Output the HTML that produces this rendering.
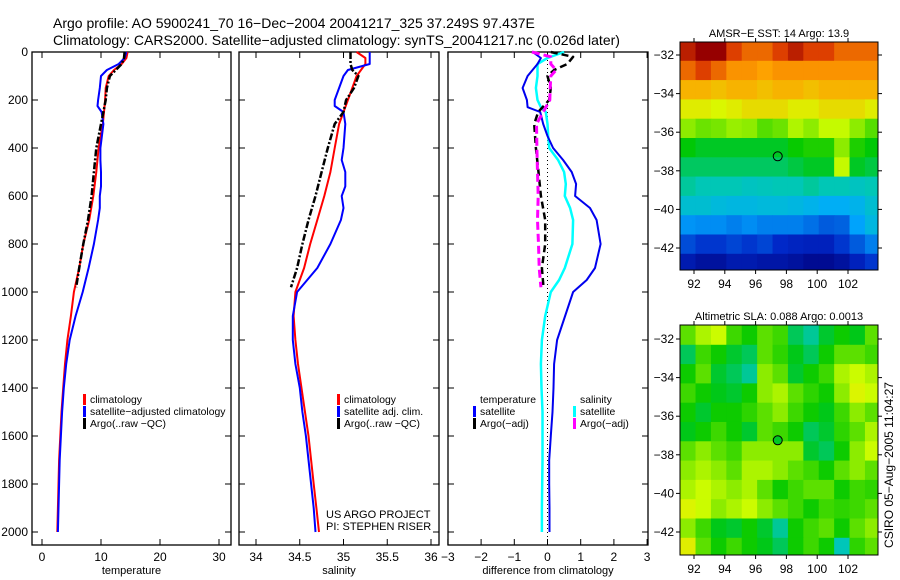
<!DOCTYPE html>
<html><head><meta charset="utf-8"><style>
html,body{margin:0;padding:0;background:#fff;}
svg{display:block;font-family:"Liberation Sans",sans-serif;}
</style></head><body>
<svg id="fig" width="900" height="580" viewBox="0 0 900 580">
<text x="53" y="28" font-size="14">Argo profile: AO 5900241_70 16−Dec−2004 20041217_325 37.249S 97.437E</text>
<text x="53" y="45" font-size="14">Climatology: CARS2000. Satellite−adjusted climatology: synTS_20041217.nc (0.026d later)</text>
<text transform="translate(893,465) rotate(-90)" text-anchor="middle" font-size="12">CSIRO 05−Aug−2005 11:04:27</text>
</svg>
<script>
// ---------- profile data ----------
const climDepth=[0,25,50,75,100,150,200,250,300,400,500,600,700,800,900,1000,1100,1200,1300,1400,1500,1600,1700,1800,1900,2000];
const climTemp=[14.5,14.3,13.5,12.2,11.3,10.8,10.7,10.5,10.3,9.6,9.2,8.7,8.0,7.0,6.3,5.4,4.9,4.3,3.9,3.6,3.3,3.1,2.9,2.8,2.7,2.6];
const climSal=[35.15,35.25,35.25,35.2,35.15,35.1,35.05,35.0,34.95,34.9,34.85,34.78,34.7,34.62,34.55,34.45,34.43,34.45,34.48,34.52,34.56,34.6,34.63,34.66,34.69,34.72];
const satDepth=[0,25,50,75,100,150,200,225,250,300,400,450,500,560,600,650,700,800,900,1000,1100,1200,1300,1400,1500,1600,1700,1800,1900,2000];
const satTemp=[14.3,14.0,13.0,11.0,10.0,9.8,9.5,9.4,10.1,10.4,9.9,9.9,10.0,10.0,9.8,9.8,9.5,8.8,7.9,6.9,5.7,4.7,4.1,3.7,3.4,3.2,3.0,2.9,2.8,2.7];
const satSal=[35.3,35.3,35.3,35.05,35.0,34.95,34.9,34.9,35.0,35.02,35.0,34.98,35.02,35.02,34.98,35.0,34.97,34.85,34.7,34.47,34.42,34.42,34.45,34.5,34.53,34.57,34.6,34.63,34.66,34.68];
const argoDepth=[0,25,50,75,100,150,200,250,300,400,500,600,700,800,900,980];
const argoTemp=[14.0,13.9,13.5,12.5,11.5,11.0,10.8,10.4,10.0,9.2,8.8,8.4,7.8,7.0,6.3,5.8];
const argoSal=[35.08,35.08,35.08,35.1,35.17,35.12,35.03,35.0,34.9,34.82,34.75,34.68,34.6,34.53,34.47,34.4];
// differences from climatology
const dSatDepth=[0,25,50,100,150,200,230,250,300,350,400,450,500,550,600,650,700,800,900,950,1000,1100,1200,1300,1400,1500,1600,1700,1800,1900,2000];
const dSatTemp=[-0.45,-0.2,-0.3,-0.6,-0.75,-0.62,-0.6,-0.22,-0.13,0.0,0.17,0.47,0.73,0.86,0.83,1.28,1.48,1.6,1.43,1.18,0.77,0.53,0.29,0.2,0.18,0.15,0.1,0.05,0.05,0.06,0.06];
const dSatSal=[0.5,0.0,-0.3,-0.3,-0.35,-0.3,-0.2,-0.05,0.0,0.02,0.05,0.32,0.5,0.55,0.52,0.68,0.77,0.75,0.52,0.35,0.1,-0.07,-0.17,-0.2,-0.18,-0.15,-0.15,-0.15,-0.16,-0.17,-0.17];
const dArgoDepth=[0,20,50,75,100,150,200,250,300,400,500,600,700,800,900,980];
const dArgoTemp=[0.1,0.77,0.6,0.2,0.0,0.1,0.05,-0.28,-0.4,-0.35,-0.27,-0.2,-0.07,-0.07,-0.17,-0.12];
const dArgoSal=[-0.47,0.1,0.1,0.26,0.1,0.08,0.07,-0.13,-0.33,-0.32,-0.3,-0.28,-0.3,-0.27,-0.25,-0.2];
const depthTicks=[0,200,400,600,800,1000,1200,1400,1600,1800,2000];
const tempTicks=[0,10,20,30];
const salTicks=[34,34.5,35,35.5,36];
const diffTicks=[-3,-2,-1,0,1,2,3];
// ---------- map data (1 degree cells, rows from -31.3 southward, cols from 91.1 eastward) ----------
const mapLatTicks=[-32,-34,-36,-38,-40,-42];
const mapLonTicks=[92,94,96,98,100,102];
const argoLon=97.437, argoLat=-37.249;
const sstGrid=[
[19.5,20,20,19,18.5,18.5,19,19.5,19,19,18.5,18.5,18.5],
[18.5,19,18.5,18,18,17.8,18,18,18,18,18,18,18],
[17.5,17.5,17.3,17.5,17.5,17.3,17.5,17.5,17.3,17.5,17.5,17.5,17.5],
[16.5,16.5,16.3,16.5,16.8,16.8,16.8,16.5,16.5,16.8,16.8,16.8,16.5],
[15.5,15.2,15.3,15.6,15.5,15.0,15.2,15.8,15.5,16,16,15.5,15.0],
[14.2,14,14,14,14,14,14,14.3,14.5,14.5,15.5,14.5,14.2],
[13.6,13.6,13.6,13.6,13.6,13.6,13.6,13.8,14,14,16,14,13.8],
[13.2,13,13,13,12.8,12.9,13,13,13.2,13,13,12.8,13],
[12.5,12.5,12.3,12.2,12.2,12.3,12.3,12.2,12,11.8,11.8,12,12.5],
[11.3,11.2,11.2,11.0,11.2,11,11,11,10.8,10.5,10.6,11.5,12.2],
[10.3,10,10,10.2,10,10.2,9.8,9.6,9.5,9.5,10,10.5,11],
[9.2,8.8,8.8,9.2,9.2,9,9,8.8,8.5,8.5,8.8,9.5,10]];
const slaGrid=[
[5,10,12,3,0,5,3,-5,-8,-3,0,-2,5],
[-5,3,0,-3,-5,5,2,-2,-5,0,5,5,3],
[0,5,-3,-5,-8,8,5,-3,0,3,10,12,10],
[3,0,-2,-3,0,8,10,5,2,0,8,14,12],
[0,-3,0,0,2,5,8,3,0,-2,3,8,5],
[-2,0,3,0,-3,5,3,0,-5,-3,2,5,10],
[5,8,5,3,8,8,8,8,-3,-5,0,8,12],
[8,10,8,5,10,10,8,5,3,0,5,8,5],
[10,12,10,8,10,5,0,3,5,5,0,3,2],
[14,12,8,10,12,8,5,3,0,3,2,3,5],
[8,3,-2,-3,0,-3,-8,0,3,5,0,5,8],
[15,5,0,3,0,-2,-5,0,3,0,-10,2,5]];

const NS='http://www.w3.org/2000/svg';
const svg=document.getElementById('fig');
function mk(tag,attrs,parent){const e=document.createElementNS(NS,tag);for(const k in attrs)e.setAttribute(k,attrs[k]);(parent||svg).appendChild(e);return e;}
const yD=d=>52+d*0.24;
function profilePanel(name,x0,x1,xs,ticks,fmt,label,showDepth){
  const g=mk('g',{});
  
  
  const fr=mk('rect',{x:x0,y:52,width:x1-x0,height:493,fill:'none',stroke:'#000','stroke-width':1.3},g);
  
  
  depthTicks.forEach(d=>{
    mk('line',{x1:x0,x2:x0+6,y1:yD(d),y2:yD(d),stroke:'#000'},g);
    mk('line',{x1:x1,x2:x1-6,y1:yD(d),y2:yD(d),stroke:'#000'},g);
    if(showDepth){const t=mk('text',{x:x0-4,y:yD(d)+4,'text-anchor':'end','font-size':12},g);t.textContent=d;
      
      }
  });
  ticks.forEach(v=>{
    const x=xs(v);
    mk('line',{x1:x,x2:x,y1:52,y2:58,stroke:'#000'},g);
    mk('line',{x1:x,x2:x,y1:545,y2:539,stroke:'#000'},g);
    const t=mk('text',{x:x,y:561,'text-anchor':'middle','font-size':12},g);t.textContent=fmt(v);
    
    
  });
  const l=mk('text',{x:(x0+x1)/2,y:574,'text-anchor':'middle','font-size':11},g);l.textContent=label;
  
  
  return g;
}
function line(g,name,depths,vals,xs,color,w,dash){
  const pts=depths.map((d,i)=>xs(vals[i]).toFixed(1)+','+yD(d).toFixed(1)).join(' ');
  const p=mk('polyline',{points:pts,fill:'none',stroke:color,'stroke-width':w,'stroke-dasharray':dash||'none','stroke-linejoin':'round'},g);
  
  
}
function legend(g,x,y,items){
  items.forEach((it,i)=>{
    if(it.c){const r=mk('rect',{x:x,y:y+i*12-9,width:3,height:11,fill:it.c},g);
      
      }
    const t=mk('text',{x:x+7,y:y+i*12,'font-size':10.4},g);t.textContent=it.t;
    
    
  });
}
// temperature panel
const xT=v=>42+v*5.9;
const g1=profilePanel('temperature-panel',32,231,xT,tempTicks,v=>v,'temperature',true);
line(g1,'temp-climatology',climDepth,climTemp,xT,'#f00',2);
line(g1,'temp-satellite-adjusted',satDepth,satTemp,xT,'#00f',2);
line(g1,'temp-argo',argoDepth,argoTemp,xT,'#000',2.5,'7,2,2,2');
legend(g1,83,403,[{c:'#f00',t:'climatology'},{c:'#00f',t:'satellite−adjusted climatology'},{c:'#000',t:'Argo(..raw −QC)'}]);
// salinity panel
const xS=v=>256+(v-34)*87.5;
const g2=profilePanel('salinity-panel',239,439,xS,salTicks,v=>v,'salinity',false);
line(g2,'sal-climatology',climDepth,climSal,xS,'#f00',2);
line(g2,'sal-satellite-adjusted',satDepth,satSal,xS,'#00f',2);
line(g2,'sal-argo',argoDepth,argoSal,xS,'#000',2.5,'7,2,2,2');
legend(g2,337,403,[{c:'#f00',t:'climatology'},{c:'#00f',t:'satellite adj. clim.'},{c:'#000',t:'Argo(..raw −QC)'}]);
const c1=mk('text',{x:326,y:518,'font-size':11},g2);c1.textContent='US ARGO PROJECT';


const c2=mk('text',{x:326,y:530,'font-size':11},g2);c2.textContent='PI: STEPHEN RISER';


// difference panel
const xDf=v=>547.5+v*33.2;
const g3=profilePanel('difference-panel',448,648,xDf,diffTicks,v=>(v<0?'−'+(-v):v),'difference from climatology',false);
const zl=mk('line',{x1:xDf(0),x2:xDf(0),y1:52,y2:545,stroke:'#000','stroke-dasharray':'1,3'},g3);


line(g3,'diff-sal-satellite',dSatDepth,dSatSal,xDf,'#0ff',2.5);
line(g3,'diff-temp-satellite',dSatDepth,dSatTemp,xDf,'#00e',2);
line(g3,'diff-temp-argo',dArgoDepth,dArgoTemp,xDf,'#000',2.5,'7,4');
line(g3,'diff-sal-argo',dArgoDepth,dArgoSal,xDf,'#f0f',3,'8,4');
legend(g3,473,403,[{t:'temperature'},{c:'#00f',t:'satellite'},{c:'#000',t:'Argo(−adj)'}]);
legend(g3,573,403,[{t:'salinity'},{c:'#0ff',t:'satellite'},{c:'#f0f',t:'Argo(−adj)'}]);

// ---------- maps ----------
const stops=[[0,[0,0,125]],[0.15,[0,40,200]],[0.3,[0,170,255]],[0.42,[0,200,180]],[0.52,[0,200,0]],[0.68,[215,255,0]],[0.82,[255,160,0]],[0.92,[220,60,0]],[1,[150,0,0]]];
function cmap(t){t=Math.max(0,Math.min(1,t));for(let i=1;i<stops.length;i++){if(t<=stops[i][0]){const a=stops[i-1],b=stops[i],f=(t-a[0])/(b[0]-a[0]);return 'rgb('+a[1].map((c,k)=>Math.round(c+(b[1][k]-c)*f)).join(',')+')';}}return 'rgb(150,0,0)';}
function mapPanel(name,top,bottom,lat32y,grid,norm,title){
  const left=680,right=878,ppLon=15.4,ppLat=19.3;
  const xL=lon=>694+(lon-92)*ppLon;
  const yL=lat=>lat32y+(-32-lat)*ppLat;
  const g=mk('g',{});
  
  
  const cid=name+'-clip';
  const cp=mk('clipPath',{id:cid},g);mk('rect',{x:left,y:top,width:right-left,height:bottom-top},cp);
  const cg=mk('g',{'clip-path':'url(#'+cid+')'},g);
  grid.forEach((row,r)=>row.forEach((v,c)=>{
    const lon0=91.1+c,lat0=-31.3-r;
    const cell=mk('rect',{x:xL(lon0),y:yL(lat0),width:ppLon+0.5,height:ppLat+0.5,fill:cmap(norm(v))},cg);
    
    
  }));
  const fr=mk('rect',{x:left,y:top,width:right-left,height:bottom-top,fill:'none',stroke:'#000'},g);
  
  
  mapLatTicks.forEach(lat=>{
    const y=yL(lat);
    mk('line',{x1:left,x2:left-4,y1:y,y2:y,stroke:'#000'},g);
    mk('line',{x1:right,x2:right+4,y1:y,y2:y,stroke:'#000'},g);
    const t=mk('text',{x:left-6,y:y+4,'text-anchor':'end','font-size':12},g);t.textContent='−'+(-lat);
    
    
  });
  mapLonTicks.forEach(lon=>{
    const x=xL(lon);
    mk('line',{x1:x,x2:x,y1:top,y2:top-4,stroke:'#000'},g);
    mk('line',{x1:x,x2:x,y1:bottom,y2:bottom+4,stroke:'#000'},g);
    const t=mk('text',{x:x,y:bottom+18,'text-anchor':'middle','font-size':12},g);t.textContent=lon;
    
    
  });
  const ti=mk('text',{x:(left+right)/2,y:top-5,'text-anchor':'middle','font-size':11},g);ti.textContent=title;
  
  
  const m=mk('circle',{cx:xL(argoLon),cy:yL(argoLat),r:4.5,fill:'none',stroke:'#000','stroke-width':1},g);
  
  
  return m;
}
mapPanel('sst-map',42,270,55,sstGrid,v=>(v-8)/12,'AMSR−E SST: 14 Argo: 13.9');
const m2=mapPanel('sla-map',325,555,339,slaGrid,v=>0.53+v/85,'Altimetric SLA: 0.088 Argo: 0.0013');
m2.setAttribute('fill',cmap(0.5));
</script>
</body></html>
